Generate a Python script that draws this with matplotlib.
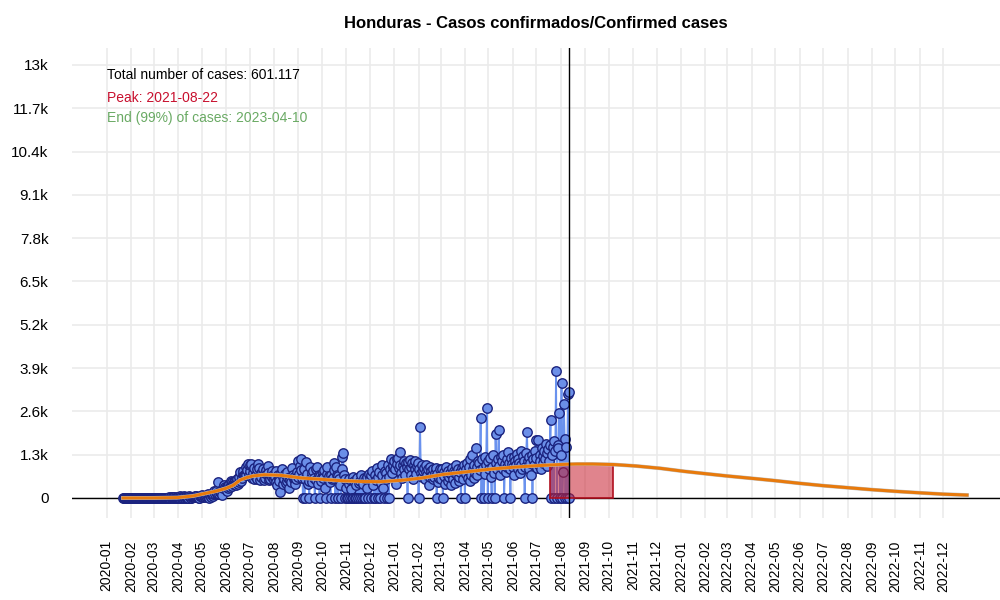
import matplotlib.pyplot as plt
import matplotlib.dates as mdates
import numpy as np
import pandas as pd

plt.rcParams['font.family'] = ['Liberation Sans', 'DejaVu Sans']

# daily confirmed cases, one list per month (first list starts 2020-01-22)
month_starts = ['2020-01-22', '2020-02-01', '2020-03-01', '2020-04-01', '2020-05-01', '2020-06-01',
                '2020-07-01', '2020-08-01', '2020-09-01', '2020-10-01', '2020-11-01', '2020-12-01',
                '2021-01-01', '2021-02-01', '2021-03-01', '2021-04-01', '2021-05-01', '2021-06-01',
                '2021-07-01', '2021-08-01']
cases_2020_01 = [0] * 10
cases_2020_02 = [0] * 29
cases_2020_03 = [0] * 10 + [2, 0, 3, 1, 0, 8, 2, 0, 6, 4, 16, 6, 15, 1, 8, 20, 28, 3, 14, 1, 30]
cases_2020_04 = [30, 0, 56, 2, 35, 10, 7, 56, 20, 5, 19, 0, 12, 7, 51, 22, 14, 4, 17, 37,
                 42, 22, 60, 66, 38, 15, 13, 8, 50, 73]
cases_2020_05 = [98, 40, 21, 60, 40, 62, 60, 92, 110, 2, 100, 100, 44, 102, 65, 130, 208, 130, 222, 110,
                 135, 480, 125, 165, 200, 150, 95, 290, 355, 398, 340]
cases_2020_06 = [296, 196, 290, 360, 420, 330, 520, 480, 350, 420, 470, 520, 410, 380, 560, 430, 470, 640,
                 780, 500, 600, 720, 810, 690, 700, 940, 700, 850, 1010, 690]
cases_2020_07 = [820, 1000, 1030, 600, 760, 900, 560, 650, 700, 860, 560, 1020, 900, 530, 740, 620, 780,
                 880, 540, 600, 760, 830, 710, 960, 750, 540, 580, 690, 620, 800, 700]
cases_2020_08 = [540, 620, 480, 800, 380, 700, 560, 520, 190, 760, 880, 640, 420, 560, 720, 460, 520,
                 780, 600, 300, 640, 550, 480, 900, 700, 560, 620, 420, 560, 770, 640]
cases_2020_09 = [1100, 720, 960, 850, 1160, 600, 0, 880, 0, 560, 1090, 720, 430, 520, 0, 940, 610, 480,
                 740, 800, 600, 0, 550, 880, 920, 430, 700, 0, 670, 520]
cases_2020_10 = [640, 780, 590, 850, 300, 0, 720, 920, 560, 660, 480, 0, 700, 560, 600, 830, 1040, 0,
                 940, 700, 0, 650, 560, 400, 0, 880, 1230, 1340, 700, 0, 560]
cases_2020_11 = [300, 0, 0, 420, 560, 0, 280, 0, 0, 640, 500, 0, 380, 0, 600, 0, 450, 0, 520, 700, 0,
                 410, 600, 0, 0, 580, 620, 300, 0, 720]
cases_2020_12 = [560, 0, 680, 820, 400, 0, 700, 0, 540, 900, 0, 620, 780, 0, 460, 980, 700, 300, 0, 820,
                 740, 560, 0, 1000, 0, 620, 880, 1170, 760, 940, 980]
cases_2021_01 = [1100, 860, 420, 1180, 1020, 1200, 900, 1390, 980, 760, 600, 1000, 1120, 880, 700, 1060,
                 940, 0, 1080, 860, 1130, 920, 700, 1040, 560, 980, 860, 1100, 720, 950, 1050]
cases_2021_02 = [0, 860, 2140, 740, 1000, 620, 820, 900, 560, 780, 980, 700, 860, 400, 940, 620, 820, 700,
                 560, 880, 640, 760, 900, 0, 720, 480, 600, 860]
cases_2021_03 = [700, 560, 880, 0, 780, 660, 420, 940, 720, 500, 820, 640, 760, 380, 900, 680, 560, 820,
                 740, 460, 980, 700, 860, 520, 640, 780, 0, 900, 560, 820, 1000]
cases_2021_04 = [0, 880, 720, 1060, 600, 940, 520, 1180, 700, 1300, 860, 600, 1000, 760, 1500, 920, 680,
                 1100, 1040, 840, 2390, 0, 1160, 900, 0, 720, 1240, 980, 2710, 0]
cases_2021_05 = [1100, 860, 1200, 640, 0, 920, 1300, 760, 0, 1920, 1040, 880, 1180, 2040, 960, 700, 1240,
                 1100, 860, 1300, 0, 1020, 780, 1160, 940, 1380, 1060, 880, 0, 1200, 1020]
cases_2021_06 = [920, 1240, 700, 1100, 980, 1320, 860, 1180, 1040, 760, 1400, 1000, 880, 1260, 1120, 0,
                 940, 1340, 1990, 1100, 860, 1220, 1040, 700, 1300, 0, 1160, 980, 1400, 1740]
cases_2021_07 = [1200, 900, 1750, 1000, 1300, 1100, 880, 1500, 1250, 1060, 1420, 1180, 1620, 960, 1340,
                 1480, 1100, 1600, 2340, 0, 1280, 1540, 0, 1700, 1420, 3810, 0, 1600, 1500, 2540, 0]
cases_2021_08 = [1300, 3440, 0, 790, 2810, 1760, 0, 1540, 0, 3110, 0, 3170]

monthly = [cases_2020_01, cases_2020_02, cases_2020_03, cases_2020_04, cases_2020_05, cases_2020_06,
           cases_2020_07, cases_2020_08, cases_2020_09, cases_2020_10, cases_2020_11, cases_2020_12,
           cases_2021_01, cases_2021_02, cases_2021_03, cases_2021_04, cases_2021_05, cases_2021_06,
           cases_2021_07, cases_2021_08]

# fitted curve (model)
fit_dates = ['2020-01-22', '2020-03-01', '2020-03-31', '2020-04-20', '2020-05-08', '2020-05-20',
             '2020-06-01', '2020-06-10', '2020-06-19', '2020-06-27', '2020-07-05', '2020-07-20',
             '2020-08-10', '2020-09-05', '2020-10-01', '2020-10-25', '2020-11-20', '2020-12-15',
             '2021-01-10', '2021-02-05', '2021-03-05', '2021-04-05', '2021-05-05', '2021-06-05',
             '2021-07-05', '2021-08-05', '2021-08-22', '2021-09-10', '2021-10-07', '2021-11-05',
             '2021-12-06', '2022-01-05', '2022-02-01', '2022-03-01', '2022-04-01', '2022-05-01',
             '2022-06-01', '2022-07-01', '2022-08-01', '2022-09-01', '2022-10-01', '2022-11-01',
             '2022-12-01', '2022-12-31']
fit_vals = [0, 2, 12, 60, 150, 210, 290, 380, 540, 610, 660, 700, 680, 600, 560, 520, 495, 490,
            530, 600, 710, 790, 870, 930, 975, 1010, 1020, 1020, 1005, 960, 890, 800, 730, 660,
            590, 520, 440, 370, 310, 250, 200, 155, 115, 88]

last_date = '2021-08-12'
band_start = '2021-07-18'
band_end = '2021-10-07'
band_height = 990

total_cases = '601.117'
peak_date = '2021-08-22'
end_date = '2023-04-10'

xticks = pd.date_range('2020-01-01', '2022-12-01', freq='MS')
yticks = [0, 1300, 2600, 3900, 5200, 6500, 7800, 9100, 10400, 11700, 13000]
ylabels = ['0', '1.3k', '2.6k', '3.9k', '5.2k', '6.5k', '7.8k', '9.1k', '10.4k', '11.7k', '13k']

dates = []
cases = []
for start, vals in zip(month_starts, monthly):
    dates.extend(pd.date_range(start, periods=len(vals), freq='D'))
    cases.extend(vals)
dates = pd.DatetimeIndex(dates)
cases = np.array(cases)

fig = plt.figure(figsize=(10, 6), dpi=100)
ax = fig.add_axes([0.072, 0.1367, 0.928, 0.7833])

# daily points joined by a thin line
ax.plot(dates, cases, '-', color='#6a92ee', lw=1.3, zorder=2)
ax.plot(dates, cases, 'o', ms=6.8, mfc='#6b8fe8', mec='#1b237f', mew=1.0, zorder=3)

b0 = mdates.date2num(pd.Timestamp(band_start))
b1 = mdates.date2num(pd.Timestamp(band_end))
ax.add_patch(plt.Rectangle((b0, 0), b1 - b0, band_height, facecolor='#c8202f', alpha=0.55,
                           edgecolor='none', zorder=4))
ax.add_patch(plt.Rectangle((b0, 0), b1 - b0, band_height, facecolor='none',
                           edgecolor='#b0101f', lw=1.2, zorder=4))

ax.plot(pd.to_datetime(fit_dates), fit_vals, color='#c0c0c0', lw=2.8, zorder=5)
ax.plot(pd.to_datetime(fit_dates), fit_vals, color='#e87a0c', lw=2.2, zorder=6)

ax.axhline(0, color='black', lw=1.0, zorder=1.5)
ax.axvline(pd.Timestamp(last_date), color='black', lw=1.0, zorder=7)

ax.set_xlim(pd.Timestamp('2019-11-18'), pd.Timestamp('2023-02-11'))
ax.set_ylim(-600, 13510)

ax.set_xticks(xticks)
ax.set_xticklabels([d.strftime('%Y-%m') for d in xticks])
ax.set_yticks(yticks)
ax.set_yticklabels(ylabels)
ax.tick_params(axis='x', labelrotation=90, labelsize=10, length=0, pad=16)
ax.tick_params(axis='y', labelsize=11, length=0, pad=17)
ax.grid(True, color='#ebebeb', lw=1.2, zorder=0)
ax.set_axisbelow(True)
for s in ax.spines.values():
    s.set_visible(False)

fig.text(0.536, 0.96, 'Honduras - Casos confirmados/Confirmed cases', ha='center', va='center',
         fontsize=12, fontweight='bold')
fig.text(0.107, 0.875, 'Total number of cases: ' + total_cases, fontsize=10, va='center', color='black')
fig.text(0.107, 0.837, 'Peak: ' + peak_date, fontsize=10, va='center', color='#c8102e')
fig.text(0.107, 0.803, 'End (99%) of cases: ' + end_date, fontsize=10, va='center', color='#6aaa64')

fig.savefig('out.png', dpi=100)
